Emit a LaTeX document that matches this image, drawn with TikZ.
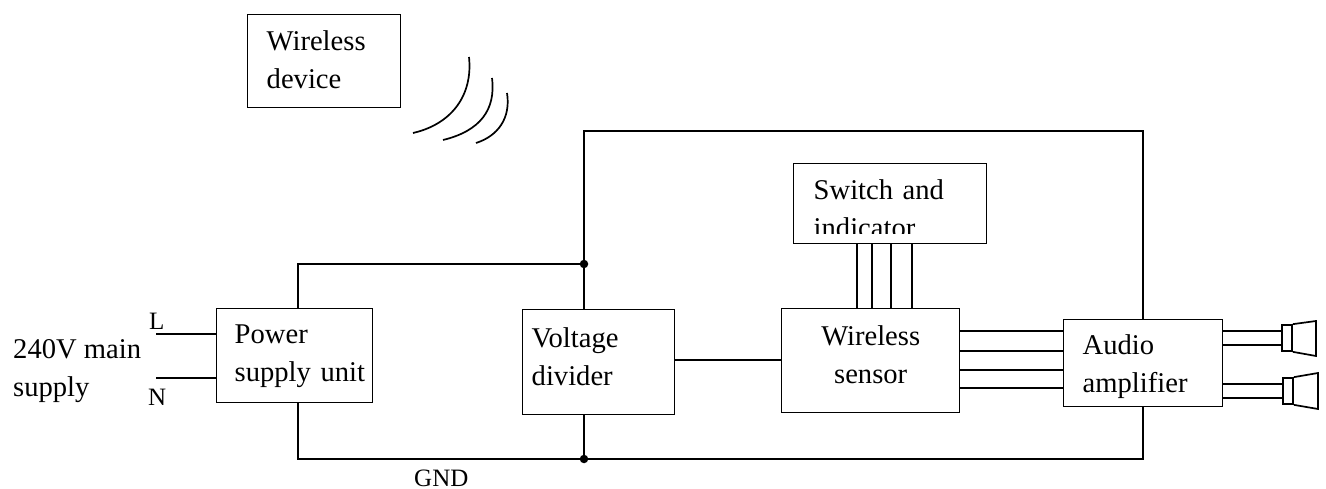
\documentclass[tikz,border=0pt]{standalone}
\usepackage{fontspec}
\setmainfont{Liberation Serif}
\usetikzlibrary{calc,positioning}
\newcommand{\blockfont}{\fontsize{28.6}{37.5}\selectfont}
\tikzset{
  wire/.style     = {line width=1.7pt},
  blockbox/.style = {shape=rectangle, draw, line width=1.4pt, inner sep=0pt,
                     anchor=north west, align=left, font=\blockfont},
  pad/.style      = {execute at begin node={\leftskip=#1}},
  plain/.style    = {inner sep=0pt, anchor=base west, align=left, font=\blockfont},
  smalltext/.style= {plain, font=\fontsize{25}{30}\selectfont},
  speaker/.style  = {shape=rectangle, draw, line width=1.7pt, inner sep=0pt,
                     minimum width=10pt, minimum height=26pt},
  junction/.style = {circle, fill=black, inner sep=0pt, minimum size=8.5pt}
}
\begin{document}
\begin{tikzpicture}[x=1pt,y=-1pt]
\useasboundingbox (0,0) rectangle (1326,489);
% blocks
\node [blockbox,pad=19pt,text width=153pt,text height=36pt,text depth=57pt] (device) at (247,14) {Wireless\\device};
\node [blockbox,pad=20pt,text width=193pt,text height=36pt,text depth=44pt] (switch) at (793,163) {Switch and\\indicator};
\fill [white] ($(switch.south west)+(1,-10)$) rectangle ($(switch.south east)+(-1,-1)$);
\node [blockbox,pad=18pt,text width=156pt,text height=35pt,text depth=59pt] (psu) at (216,308) {Power\\supply unit};
\node [blockbox,pad=9pt,text width=152pt,text height=38pt,text depth=67pt] (divider) at (522,309) {Voltage\\divider};
\node [blockbox,align=center,text width=178pt,text height=37pt,text depth=67pt] (sensor) at (781,308) {Wireless\\sensor};
\node [blockbox,pad=19pt,text width=159pt,text height=35pt,text depth=52pt] (amp) at (1063,319) {Audio\\amplifier};
% free labels
\node [plain] (mains) at (13,396) {240V main\\supply};
\node [smalltext] (live) at (149,329) {L};
\node [smalltext] (neutral) at (148,405) {N};
\node [smalltext] (gnd) at (414,486) {GND};
% supply rails
\node [junction] (jtop) at (584,264) {};
\node [junction] (jbot) at (584,459) {};
\coordinate (ctop) at (584,131);
\coordinate (cright) at (1143,131);
\coordinate (cleft) at (298,459);
\coordinate (cend) at (1143,459);
\draw [wire] (psu.north -| 298,0) |- (jtop);
\draw [wire] (divider.north -| jtop) -- (ctop) -- (cright) -- (cright |- amp.north);
\draw [wire] (psu.south -| cleft) -- (cleft) -- (cend) -- (cend |- amp.south);
\draw [wire] (divider.south -| jbot) -- (jbot);
\draw [wire] (divider.east |- 0,360) -- (sensor.west |- 0,360);
% mains inputs
\draw [wire] (156,334) -- (psu.west |- 0,334);
\draw [wire] (156,378) -- (psu.west |- 0,378);
% switch to sensor
\foreach \xx in {857,872,891,912}
  \draw [wire] (switch.south -| \xx,0) -- (sensor.north -| \xx,0);
% sensor to amplifier
\foreach \yy in {331,351,370,388}
  \draw [wire] (sensor.east |- 0,\yy) -- (amp.west |- 0,\yy);
% speakers
\node [speaker] (spka) at (1287,338) {};
\node [speaker] (spkb) at (1288,391) {};
\draw [wire] (amp.east |- 0,331) -- (spka.west |- 0,331);
\draw [wire] (amp.east |- 0,345) -- (spka.west |- 0,345);
\draw [wire] (amp.east |- 0,384) -- (spkb.west |- 0,384);
\draw [wire] (amp.east |- 0,398) -- (spkb.west |- 0,398);
\draw [wire,line join=miter] (spka.north east) -- (1316,321) -- (1316,356) -- (spka.south east);
\draw [wire,line join=miter] (spkb.north east) -- (1318,373) -- (1318,409) -- (spkb.south east);
% radio waves
\draw [wire] (469,57) .. controls (473,95) and (452,124) .. (413,133);
\draw [wire] (492,78) .. controls (496,110) and (480,131) .. (443,140);
\draw [wire] (507,93) .. controls (511,118) and (498,136) .. (476,143);
\end{tikzpicture}
\end{document}
